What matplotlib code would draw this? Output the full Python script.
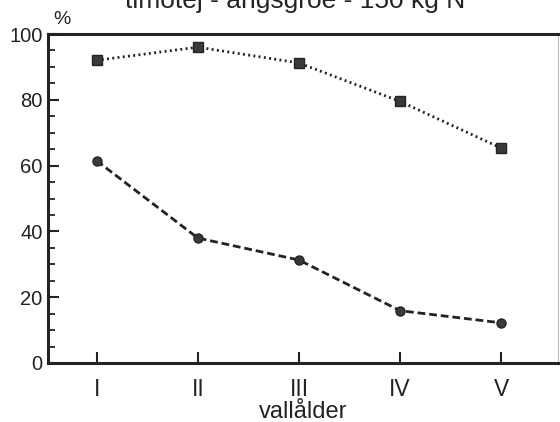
import matplotlib
matplotlib.use("Agg")
import matplotlib.pyplot as plt
from matplotlib.ticker import MultipleLocator

plt.rcParams['font.family'] = ['Liberation Sans', 'DejaVu Sans']

categories = ["I", "II", "III", "IV", "V"]
squares = [92, 96, 91.2, 79.5, 65.3]
circles = [61.5, 38, 31.3, 15.9, 12.2]

fig = plt.figure(figsize=(5.6, 4.22), dpi=100)
ax = fig.add_axes([48/560, 1-363/422, 510/560, (363-34)/422])

x = list(range(1, len(categories) + 1))
ink = "#232323"
ax.plot(x, squares, linestyle=(0, (0.7, 1.2)), color=ink, lw=2.0,
        marker="s", markersize=6.5, markerfacecolor="#3a3a3a", markeredgecolor=ink)
ax.plot(x, circles, linestyle=(0, (2.8, 1.4)), color=ink, lw=2.0,
        marker="o", markersize=6.5, markerfacecolor="#3a3a3a", markeredgecolor=ink)

ax.set_xlim(0.52, 5.56)
ax.set_ylim(0, 100)
ax.set_xticks(x)
ax.set_xticklabels(categories)
ax.yaxis.set_major_locator(MultipleLocator(20))
ax.yaxis.set_minor_locator(MultipleLocator(5))

ax.tick_params(axis="both", which="major", direction="in", length=8, width=1.5,
               colors=ink)
ax.tick_params(axis="y", which="major", labelsize=14.5, pad=4)
ax.tick_params(axis="x", which="major", labelsize=16.5, pad=11)
ax.tick_params(axis="y", which="minor", direction="in", length=5, width=1.3, colors=ink)

for side in ("left", "bottom", "top"):
    ax.spines[side].set_linewidth(2.2)
    ax.spines[side].set_color(ink)
ax.spines["right"].set_linewidth(0.8)
ax.spines["right"].set_color("#bbbbbb")

ax.set_xlabel("vallålder", fontsize=17, color=ink, labelpad=0)
fig.text(62/560, 1-19/422, "%", fontsize=14, color=ink, ha="center", va="center")
fig.text(295/560, 1-1/422, "timotej - ängsgröe - 150 kg N", fontsize=19,
         color=ink, ha="center", va="center")

fig.savefig("out.png", dpi=100)
